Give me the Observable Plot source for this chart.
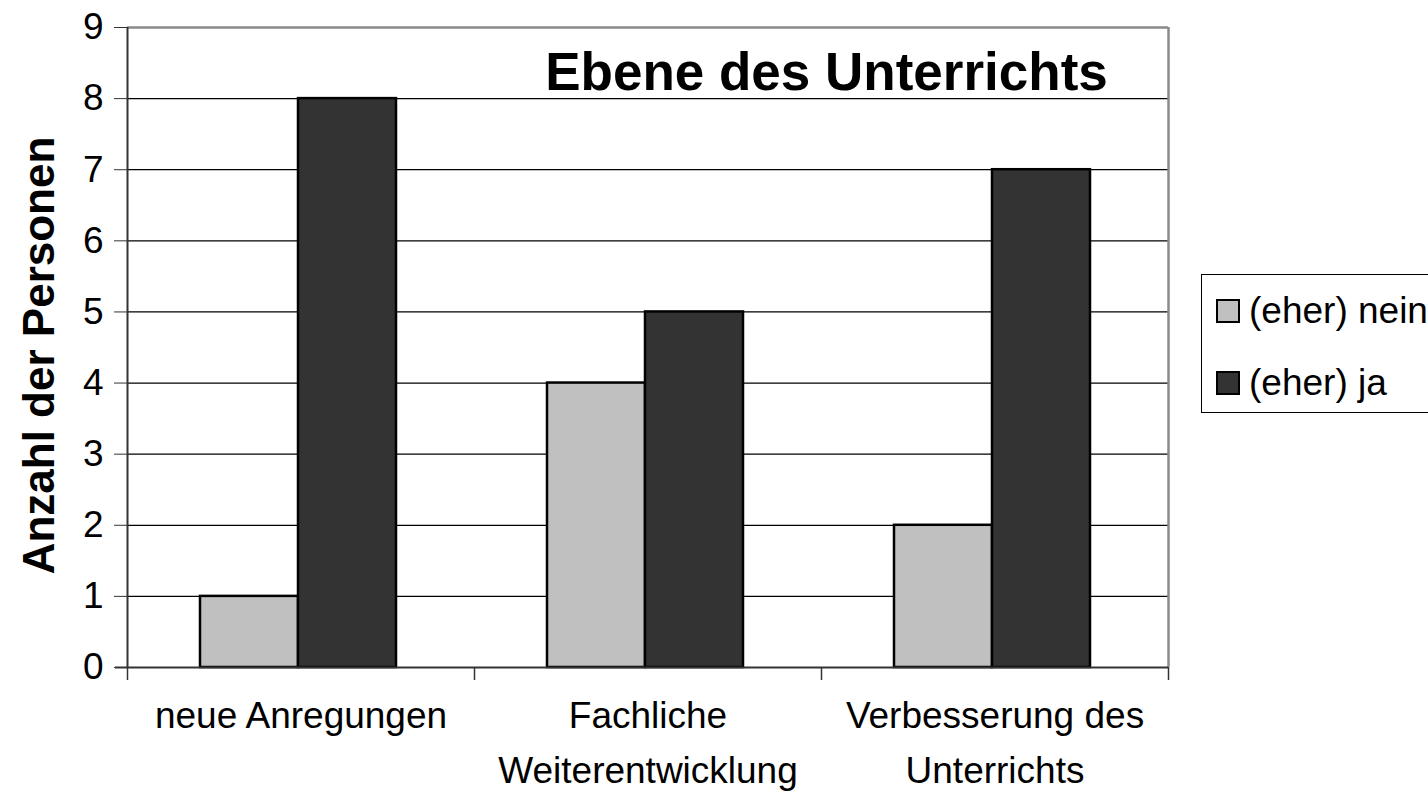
<!DOCTYPE html>
<html>
<head>
<meta charset="utf-8">
<script src="https://cdn.jsdelivr.net/npm/d3@7"></script>
<script src="https://cdn.jsdelivr.net/npm/@observablehq/plot@0.6"></script>
<style>
  html, body { margin: 0; padding: 0; background: #fff; overflow: hidden; }
  #wrap { position: relative; width: 1428px; height: 810px; overflow: hidden; font-family: "Liberation Sans", Arial, sans-serif; }
  #legend { position: absolute; left: 1201px; top: 274px; width: 260px; height: 139px; border: 1.5px solid #000; box-sizing: border-box; background: #fff; }
  .item { position: absolute; left: 14px; display: flex; align-items: center; font-size: 37px; line-height: 1; color: #000; }
  .sw { width: 20px; height: 20px; border: 2px solid #000; margin-right: 9px; }
</style>
</head>
<body>
<div id="wrap"></div>
<script>
// ---- data ----
const categories = ["neue Anregungen", "Fachliche\nWeiterentwicklung", "Verbesserung des\nUnterrichts"];
const seriesNames = ["(eher) nein", "(eher) ja"];
const neinValues = [1, 4, 2];
const jaValues = [8, 5, 7];
const yTicks = [0, 1, 2, 3, 4, 5, 6, 7, 8, 9];
const seriesColors = ["#c0c0c0", "#333333"];
const chartTitle = "Ebene des Unterrichts";
const yTitle = "Anzahl der Personen";

const rows = categories.map((c, i) => ({cat: c, nein: neinValues[i], ja: jaValues[i]}));

const W = 1428, H = 810;
const mL = 127, mR = 260, mT = 27, mB = 143;
const plotW = W - mL - mR, plotH = H - mT - mB;
const bw = plotW / categories.length;
const barW = 98;
const off1 = 73; // left offset of first bar within group

const chart = Plot.plot({
  width: W, height: H,
  marginLeft: mL, marginRight: mR, marginTop: mT, marginBottom: mB,
  style: {fontFamily: "'Liberation Sans', Arial, sans-serif", fontSize: "37px", background: "#fff", color: "#000", overflow: "visible"},
  x: {domain: categories, padding: 0, label: null},
  y: {domain: [0, 9], label: null},
  marks: [
    Plot.ruleY(yTicks.filter(d => d > 0 && d < 9), {stroke: "#000", strokeWidth: 1.2}),
    Plot.ruleY([9], {stroke: "#8a8a8a", strokeWidth: 2.5}),
    Plot.ruleX([categories[categories.length - 1]], {dx: bw / 2, stroke: "#8a8a8a", strokeWidth: 2.5}),
    Plot.barY(rows, {x: "cat", y: "nein", fill: seriesColors[0], stroke: "#000", strokeWidth: 2.5,
      insetLeft: off1, insetRight: bw - off1 - barW}),
    Plot.barY(rows, {x: "cat", y: "ja", fill: seriesColors[1], stroke: "#000", strokeWidth: 2.5,
      insetLeft: off1 + barW, insetRight: bw - off1 - 2 * barW}),
    Plot.ruleY([0], {stroke: "#333", strokeWidth: 2, insetLeft: -12}),
    Plot.ruleX([categories[0]], {dx: -bw / 2, stroke: "#333", strokeWidth: 2}),
    // category boundary ticks below axis
    Plot.ruleX(categories, {dx: -bw / 2, stroke: "#333", strokeWidth: 1.5, insetTop: plotH, insetBottom: -13}),
    Plot.ruleX([categories[categories.length - 1]], {dx: bw / 2, stroke: "#333", strokeWidth: 1.5, insetTop: plotH, insetBottom: -13}),
    Plot.axisY({ticks: yTicks, tickSize: 13, tickPadding: 11, tickFormat: d => String(d), stroke: "#333", fontSize: 37, label: null}),
    Plot.axisX({tickSize: 0, tickPadding: 21, lineHeight: 1.5, fontSize: 37, label: null}),
    Plot.text([chartTitle], {frameAnchor: "top", dx: 826 - (mL + plotW / 2), dy: 46, lineAnchor: "middle",
      fontSize: 53, fontWeight: "bold", fill: "#000"}),
    Plot.text([yTitle], {frameAnchor: "left", textAnchor: "middle", dx: -88, dy: 8, rotate: -90, fontSize: 44, fontWeight: "bold", fill: "#000"})
  ]
});

const wrap = document.getElementById("wrap");
wrap.appendChild(chart);

// legend
const legend = document.createElement("div");
legend.id = "legend";
const tops = [17, 89];
seriesNames.forEach((s, i) => {
  const it = document.createElement("div");
  it.className = "item";
  it.style.top = tops[i] + "px";
  const sw = document.createElement("div");
  sw.className = "sw";
  sw.style.background = seriesColors[i];
  it.appendChild(sw);
  const t = document.createElement("span");
  t.textContent = s;
  it.appendChild(t);
  legend.appendChild(it);
});
wrap.appendChild(legend);
</script>
</body>
</html>
